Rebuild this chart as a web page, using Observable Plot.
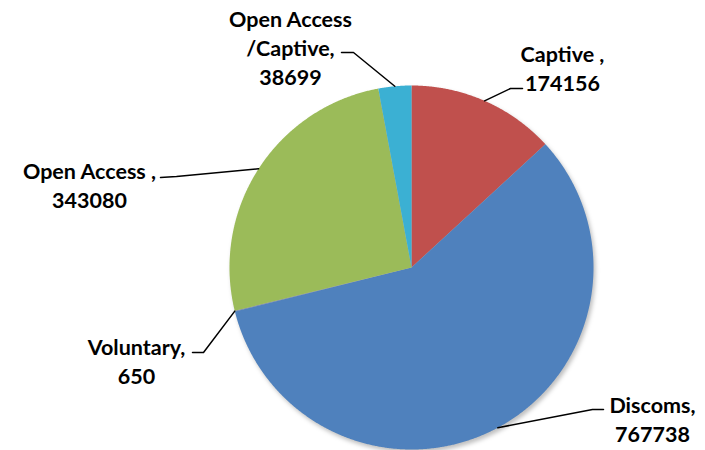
<!DOCTYPE html>
<html>
<head>
<meta charset="utf-8">
<script src="https://cdn.jsdelivr.net/npm/d3@7"></script>
<script src="https://cdn.jsdelivr.net/npm/@observablehq/plot@0.6"></script>
<style>
  html, body { margin: 0; padding: 0; background: #fff; }
  #chart svg { display: block; }
</style>
</head>
<body>
<div id="chart"></div>
<script>
// ---- data ----
const categories = ["Captive", "Discoms", "Voluntary", "Open Access", "Open Access /Captive"];
const values = [174156, 767738, 650, 343080, 38699];
const labels = ["Captive ,\n174156", "Discoms,\n767738", "Voluntary,\n650", "Open Access ,\n343080", "Open Access\n/Captive,\n38699"];
const colors = ["#C0504D", "#4F81BD", "#6F7FB0", "#9BBB59", "#3BB0D3"];

// ---- layout (pixel positions of labels and leader elbows) ----
const CX = 411, CY = 267, R = 182;
const labelPx = [[562, 67], [652, 418], [136, 360], [89, 184], [290, 46]];
const leaderPx = [
  [[522, 88], [510, 88]],
  [[603, 409], [592, 409]],
  [[192, 352], [203, 352]],
  [[160, 177], [176, 176]],
  [[341, 52], [353, 52]]
];
const toX = px => (px - CX) / R;
const toY = py => (CY - py) / R;

// ---- geometry from data ----
const arcs = d3.pie().sort(null).value(d => d)(values);
const slicePts = [];
arcs.forEach((p, i) => {
  const name = categories[i];
  slicePts.push({name, x: 0, y: 0});
  const n = Math.max(2, Math.ceil((p.endAngle - p.startAngle) / 0.005));
  for (let k = 0; k <= n; k++) {
    const a = p.startAngle + (p.endAngle - p.startAngle) * k / n;
    slicePts.push({name, x: Math.sin(a), y: Math.cos(a)});
  }
  slicePts.push({name, x: 0, y: 0});
});

const leaderPts = [];
arcs.forEach((p, i) => {
  const name = categories[i];
  const [s, e] = leaderPx[i];
  const mid = (p.startAngle + p.endAngle) / 2;
  leaderPts.push({name, x: toX(s[0]), y: toY(s[1])});
  leaderPts.push({name, x: toX(e[0]), y: toY(e[1])});
  leaderPts.push({name, x: Math.sin(mid), y: Math.cos(mid)});
});

const labelData = categories.map((c, i) => ({
  name: c, text: labels[i], x: toX(labelPx[i][0]), y: toY(labelPx[i][1])
}));

const chart = Plot.plot({
  width: 705,
  height: 450,
  marginLeft: CX - R,
  marginRight: 705 - (CX + R),
  marginTop: CY - R,
  marginBottom: 450 - (CY + R),
  style: {overflow: "visible", background: "#fff"},
  x: {domain: [-1, 1], axis: null},
  y: {domain: [-1, 1], axis: null},
  color: {domain: categories, range: colors},
  marks: [
    Plot.line(slicePts, {x: "x", y: "y", z: "name", fill: "name", stroke: null, curve: "linear"}),
    Plot.line(leaderPts, {x: "x", y: "y", z: "name", stroke: "#000", strokeWidth: 1.5, curve: "linear"}),
    Plot.text(labelData, {
      x: "x", y: "y", text: "text",
      fontSize: 21.5, fontWeight: "bold", fontFamily: "Lato, 'Open Sans', sans-serif",
      lineHeight: 1.36, fill: "#000", textAnchor: "middle", lineAnchor: "middle"
    })
  ]
});
document.getElementById("chart").appendChild(chart);
const g = chart.querySelector('g[aria-label="line"]');
if (g) g.style.filter = "drop-shadow(2px 3px 2px rgba(0,0,0,0.25))";
</script>
</body>
</html>
